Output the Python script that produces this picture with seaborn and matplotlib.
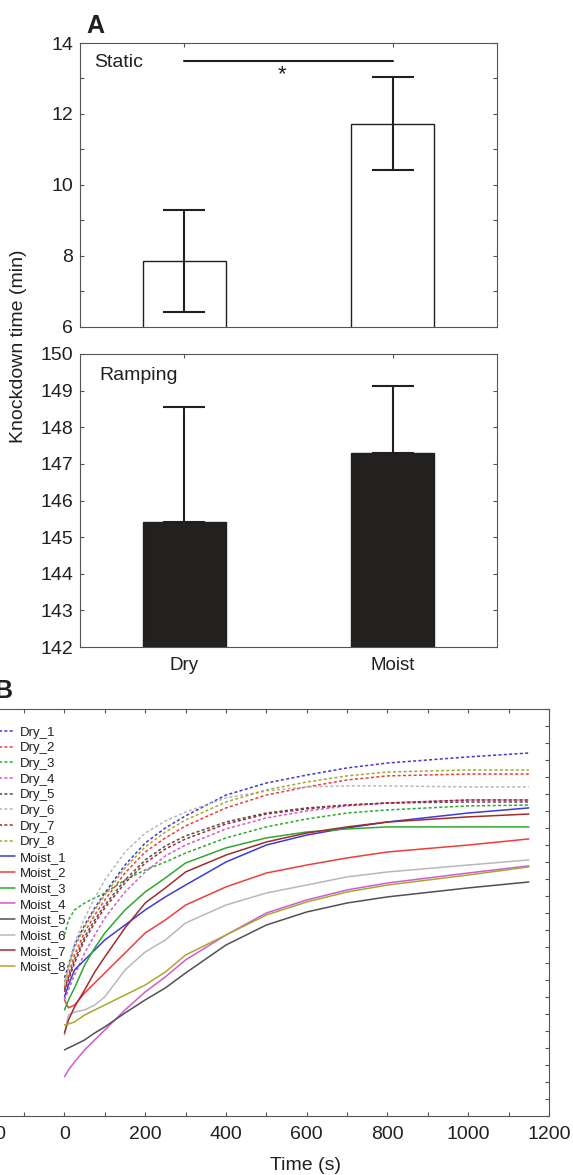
import numpy as np
import pandas as pd
import seaborn as sns
import matplotlib.pyplot as plt
from matplotlib.ticker import MultipleLocator

# panel A: knockdown time, mean and sd
groups = ['Dry', 'Moist']
static_mean = [7.85, 11.73]
static_sd = [1.44, 1.32]
ramp_mean = [145.42, 147.30]
ramp_sd = [3.13, 1.83]

# panel B: traces (time s, temperature)
times = [0, 10, 25, 50, 75, 100, 150, 200, 250, 300, 400, 500, 600, 700, 800, 1000, 1150]
dry_1 = [28.15, 28.91, 30.09, 31.27, 32.28, 33.16, 34.81, 36.11, 37.00, 37.71, 38.94, 39.65, 40.12, 40.54, 40.83, 41.19, 41.42]
dry_2 = [27.56, 28.32, 29.50, 30.86, 31.86, 32.75, 34.34, 35.58, 36.41, 37.12, 38.18, 38.94, 39.42, 39.83, 40.07, 40.18, 40.18]
dry_3 = [30.68, 31.57, 32.16, 32.57, 32.87, 33.16, 33.93, 34.52, 34.99, 35.52, 36.41, 37.06, 37.53, 37.88, 38.06, 38.30, 38.35]
dry_4 = [26.85, 27.44, 28.32, 29.62, 30.68, 31.69, 33.22, 34.40, 35.35, 35.99, 36.94, 37.59, 38.00, 38.30, 38.47, 38.65, 38.65]
dry_5 = [27.44, 28.15, 29.21, 30.57, 31.57, 32.45, 33.93, 35.11, 35.94, 36.53, 37.35, 37.88, 38.18, 38.35, 38.47, 38.53, 38.53]
dry_6 = [27.73, 28.74, 30.21, 31.69, 32.87, 33.93, 35.58, 36.70, 37.41, 37.94, 38.77, 39.18, 39.42, 39.48, 39.48, 39.42, 39.42]
dry_7 = [27.32, 28.03, 29.03, 30.39, 31.39, 32.28, 33.75, 34.93, 35.76, 36.35, 37.23, 37.82, 38.12, 38.35, 38.47, 38.65, 38.65]
dry_8 = [27.91, 28.74, 29.92, 31.16, 32.16, 33.04, 34.64, 35.88, 36.76, 37.47, 38.53, 39.24, 39.71, 40.07, 40.30, 40.42, 40.42]
moist_1 = [27.03, 27.73, 28.62, 29.21, 29.80, 30.39, 31.27, 32.16, 32.93, 33.63, 34.99, 35.99, 36.58, 37.00, 37.35, 37.88, 38.18]
moist_2 = [26.85, 26.38, 26.55, 27.26, 27.85, 28.44, 29.62, 30.80, 31.57, 32.45, 33.52, 34.34, 34.81, 35.23, 35.58, 35.99, 36.35]
moist_3 = [26.26, 26.85, 27.56, 28.91, 29.92, 30.80, 32.16, 33.22, 34.05, 34.93, 35.82, 36.41, 36.76, 36.94, 37.06, 37.06, 37.06]
moist_4 = [22.31, 22.72, 23.19, 23.90, 24.49, 25.08, 26.26, 27.32, 28.21, 29.21, 30.68, 31.98, 32.75, 33.34, 33.75, 34.34, 34.76]
moist_5 = [23.90, 24.02, 24.19, 24.49, 24.90, 25.26, 26.08, 26.85, 27.56, 28.44, 30.09, 31.27, 32.04, 32.57, 32.93, 33.46, 33.81]
moist_6 = [24.78, 25.96, 26.14, 26.26, 26.55, 27.03, 28.62, 29.68, 30.39, 31.39, 32.45, 33.16, 33.63, 34.11, 34.40, 34.81, 35.11]
moist_7 = [24.90, 25.67, 26.44, 27.44, 28.50, 29.39, 31.10, 32.57, 33.46, 34.40, 35.40, 36.17, 36.70, 37.06, 37.35, 37.65, 37.82]
moist_8 = [25.37, 25.43, 25.55, 25.96, 26.26, 26.55, 27.14, 27.73, 28.50, 29.50, 30.68, 31.86, 32.63, 33.22, 33.63, 34.22, 34.70]

dry = [dry_1, dry_2, dry_3, dry_4, dry_5, dry_6, dry_7, dry_8]
moist = [moist_1, moist_2, moist_3, moist_4, moist_5, moist_6, moist_7, moist_8]
colors = ['#3b3bd6', '#f03c3c', '#2ea82e', '#d25ad2', '#505050', '#b8b8b8', '#a02c2c', '#a8a82e']

ink = '#231f20'
sns.set_style('ticks')
plt.rcParams['font.family'] = ['Liberation Sans', 'DejaVu Sans']
plt.rcParams['text.color'] = ink
plt.rcParams['axes.edgecolor'] = '#555555'
plt.rcParams['xtick.color'] = '#555555'
plt.rcParams['ytick.color'] = '#555555'
plt.rcParams['xtick.labelcolor'] = ink
plt.rcParams['ytick.labelcolor'] = ink

W, H = 573, 1175
fig = plt.figure(figsize=(W / 100, H / 100), dpi=100)


def px_axes(l, t, r, b):
    return fig.add_axes([l / W, 1 - b / H, (r - l) / W, (b - t) / H])


def style_ticks(ax, fs=14):
    ax.tick_params(which='both', direction='in', top=True, right=True,
                   length=3, width=0.8, labelsize=fs, pad=5)


ax1 = px_axes(80, 43, 497, 327)
ax2 = px_axes(80, 354, 497, 647)

df_static = pd.DataFrame({'group': groups, 'time': static_mean})
sns.barplot(data=df_static, x='group', y='time', ax=ax1, color='white',
            edgecolor=ink, linewidth=1, width=0.4, errorbar=None)
ax1.errorbar(x=[0, 1], y=static_mean, yerr=static_sd, fmt='none',
             ecolor=ink, elinewidth=1.5, capsize=15, capthick=1.5)
ax1.set_ylim(6, 14)
ax1.set_xlim(-0.5, 1.5)
ax1.set_yticks(np.arange(6, 15, 2))
ax1.yaxis.set_minor_locator(MultipleLocator(1))
style_ticks(ax1)
ax1.set_xticklabels([])
ax1.set_xlabel('')
ax1.set_ylabel('')
ax1.plot([0, 1], [13.48, 13.48], color=ink, lw=1.5)
ax1.text(0.47, 13.12, '*', ha='center', va='center', fontsize=16)
ax1.text(0.034, 0.93, 'Static', transform=ax1.transAxes, fontsize=14,
         ha='left', va='center')

df_ramp = pd.DataFrame({'group': groups, 'time': ramp_mean})
sns.barplot(data=df_ramp, x='group', y='time', ax=ax2, color=ink,
            edgecolor=ink, linewidth=1, width=0.4, errorbar=None)
ax2.errorbar(x=[0, 1], y=ramp_mean, yerr=[[0, 0], ramp_sd], fmt='none',
             ecolor=ink, elinewidth=1.5, capsize=15, capthick=1.5)
ax2.set_ylim(142, 150)
ax2.set_xlim(-0.5, 1.5)
ax2.set_yticks(np.arange(142, 151, 1))
style_ticks(ax2)
ax2.tick_params(axis='x', labelsize=13.5, pad=7)
ax2.set_xlabel('')
ax2.set_ylabel('')
ax2.text(0.046, 0.928, 'Ramping', transform=ax2.transAxes, fontsize=14,
         ha='left', va='center')

fig.text(19 / W, 1 - 346 / H, 'Knockdown time (min)', rotation=90,
         ha='center', va='center', fontsize=14)
fig.text(86 / W, 1 - 33 / H, 'A', fontsize=18, fontweight='bold')

# panel B, left part falls outside the figure like the cropped original
ax3 = px_axes(-16.3, 709.3, 549, 1116)
for i in range(8):
    sns.lineplot(x=times, y=dry[i], ax=ax3, color=colors[i], lw=1.1,
                 linestyle=(0, (2, 1.5)), label=f'Dry_{i + 1}')
for i in range(8):
    sns.lineplot(x=times, y=moist[i], ax=ax3, color=colors[i], lw=1.1,
                 label=f'Moist_{i + 1}')
ax3.set_xlim(-200, 1200)
ax3.set_ylim(20, 44)
ax3.xaxis.set_major_locator(MultipleLocator(200))
ax3.xaxis.set_minor_locator(MultipleLocator(100))
ax3.yaxis.set_major_locator(MultipleLocator(2))
ax3.yaxis.set_minor_locator(MultipleLocator(1))
style_ticks(ax3)
ax3.tick_params(axis='x', pad=7)
ax3.tick_params(axis='y', labelleft=False)
ax3.set_ylabel('')
ax3.set_xlabel('')
ax3.legend(loc='upper left', bbox_to_anchor=(-17 / W, 1 - 721 / H),
           bbox_transform=fig.transFigure, frameon=False, fontsize=9.5,
           labelspacing=0.26, handlelength=2.0, handletextpad=0.4,
           borderpad=0.4, borderaxespad=0)
fig.text(306 / W, 1 - 1165 / H, 'Time (s)', ha='center', va='center',
         fontsize=14)
fig.text(12 / W, 1 - 691 / H, 'B', ha='right', va='center', fontsize=18,
         fontweight='bold')

fig.savefig('out.png', dpi=100)
